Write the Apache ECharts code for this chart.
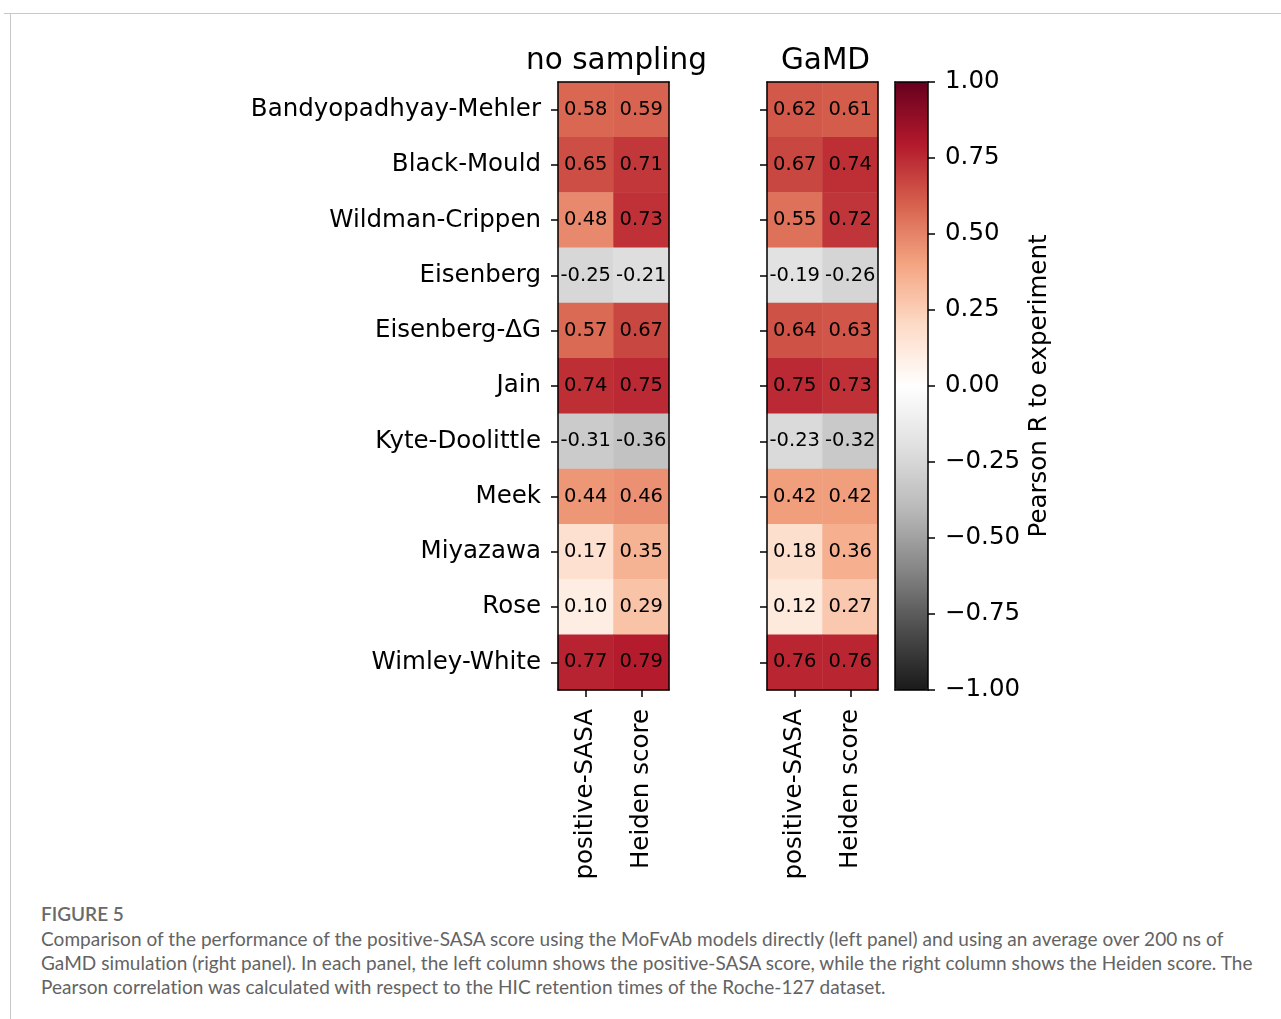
<!DOCTYPE html>
<html>
<head>
<meta charset="utf-8">
<script src="https://cdn.jsdelivr.net/npm/echarts@6/dist/echarts.min.js"></script>
<style>
  html, body { margin: 0; padding: 0; background: #fff; }
  #wrap { position: relative; width: 1281px; height: 1019px; overflow: hidden; }
  #frame { position: absolute; left: 10px; top: 13px; width: 1300px; height: 1100px; z-index: 5;
           pointer-events: none; border-top: 1px solid #c8c8c8; border-left: 1px solid #c8c8c8; }
  #topline { position: absolute; left: 4px; top: 13px; width: 1290px; height: 0; z-index: 5;
             border-top: 1px solid #c8c8c8; }
  #chart { position: absolute; left: 0; top: 0; width: 1281px; height: 890px; }
  #caption { position: absolute; left: 41px; top: 902px; width: 1235px;
             font-family: Lato, "Open Sans", sans-serif; color: #636363; }
  #caption .fig { font-size: 19px; font-weight: 600; color: #6a6a6a; line-height: 24px; margin-bottom: 1px; }
  #caption .txt { font-size: 19px; line-height: 24px; white-space: nowrap; letter-spacing: 0.05px; }
</style>
</head>
<body>
<div id="wrap">
  <div id="chart"></div>
  <div id="frame"></div>
  <div id="topline"></div>
  <div id="caption">
    <div class="fig">FIGURE 5</div>
    <div class="txt">Comparison of the performance of the positive-SASA score using the MoFvAb models directly (left panel) and using an average over 200 ns of<br>GaMD simulation (right panel). In each panel, the left column shows the positive-SASA score, while the right column shows the Heiden score. The<br>Pearson correlation was calculated with respect to the HIC retention times of the Roche-127 dataset.</div>
  </div>
</div>
<script>
// scales (rows top to bottom)
var rows = ['Bandyopadhyay-Mehler', 'Black-Mould', 'Wildman-Crippen', 'Eisenberg', 'Eisenberg-ΔG',
  'Jain', 'Kyte-Doolittle', 'Meek', 'Miyazawa', 'Rose', 'Wimley-White']
var cols = ['positive-SASA', 'Heiden score']
var panelTitles = ['no sampling', 'GaMD']

// left panel
var sasaNoSampling = [0.58, 0.65, 0.48, -0.25, 0.57, 0.74, -0.31, 0.44, 0.17, 0.10, 0.77]
var heidenNoSampling = [0.59, 0.71, 0.73, -0.21, 0.67, 0.75, -0.36, 0.46, 0.35, 0.29, 0.79]
// right panel
var sasaGaMD = [0.62, 0.67, 0.55, -0.19, 0.64, 0.75, -0.23, 0.42, 0.18, 0.12, 0.76]
var heidenGaMD = [0.61, 0.74, 0.72, -0.26, 0.63, 0.73, -0.32, 0.42, 0.36, 0.27, 0.76]

// colour bar range
var cbMin = -1
var cbMax = 1
var cbStep = 0.25

// RdGy reversed
var rdgyR = ['#1a1a1a', '#4d4d4d', '#878787', '#bababa', '#e0e0e0', '#ffffff',
  '#fddbc7', '#f4a582', '#d6604d', '#b2182b', '#67001f']

function cells(a, b) {
  var out = []
  rows.forEach(function (r, i) {
    out.push([0, i, a[i]])
    out.push([1, i, b[i]])
  })
  return out
}

var font = 'DejaVu Sans'
var fs = 24.5
var lineStyle = { color: '#000', width: 1.5 }
var grids = [
  { left: 558, top: 82, width: 111, height: 608 },
  { left: 767, top: 82, width: 111, height: 608 },
  { left: 895, top: 82, width: 33, height: 608 }
]

var xAxes = []
var yAxes = []
;[0, 1].forEach(function (g) {
  xAxes.push({
    type: 'category', gridIndex: g, data: cols, position: 'bottom', z: 10,
    axisLine: { show: true, onZero: false, lineStyle: lineStyle },
    axisTick: { show: true, length: 7, lineStyle: lineStyle, alignWithLabel: true, interval: 0 },
    axisLabel: { rotate: 90, fontSize: fs, color: '#000', fontFamily: font, margin: 19, interval: 0 },
    splitLine: { show: false }
  })
  xAxes.push({
    type: 'category', gridIndex: g, data: cols, position: 'top', z: 10,
    axisLine: { show: true, onZero: false, lineStyle: lineStyle }, axisTick: { show: false }, axisLabel: { show: false }
  })
  yAxes.push({
    type: 'category', gridIndex: g, data: rows, inverse: true, position: 'left', z: 10,
    axisLine: { show: true, onZero: false, lineStyle: lineStyle },
    axisTick: { show: true, length: 7, lineStyle: lineStyle, alignWithLabel: true, interval: 0 },
    axisLabel: { show: g === 0, fontSize: fs, color: '#000', fontFamily: font, margin: 17, interval: 0,
      padding: [5, 0, 0, 0] },
    splitLine: { show: false }
  })
  yAxes.push({
    type: 'category', gridIndex: g, data: rows, inverse: true, position: 'right', z: 10,
    axisLine: { show: true, onZero: false, lineStyle: lineStyle }, axisTick: { show: false }, axisLabel: { show: false }
  })
})

// colour bar frame + ticks
xAxes.push({
  type: 'category', gridIndex: 2, data: [''], position: 'bottom', z: 10,
  axisLine: { show: true, onZero: false, lineStyle: lineStyle }, axisTick: { show: false }, axisLabel: { show: false }
})
xAxes.push({
  type: 'category', gridIndex: 2, data: [''], position: 'top', z: 10,
  axisLine: { show: true, onZero: false, lineStyle: lineStyle }, axisTick: { show: false }, axisLabel: { show: false }
})
yAxes.push({
  type: 'value', gridIndex: 2, position: 'left', min: cbMin, max: cbMax, z: 10,
  axisLine: { show: true, onZero: false, lineStyle: lineStyle }, axisTick: { show: false },
  axisLabel: { show: false }, splitLine: { show: false }
})
yAxes.push({
  type: 'value', gridIndex: 2, position: 'right', min: cbMin, max: cbMax, interval: cbStep, z: 10,
  axisLine: { show: true, onZero: false, lineStyle: lineStyle },
  axisTick: { show: true, length: 7, lineStyle: lineStyle },
  axisLabel: {
    fontSize: fs, color: '#000', fontFamily: font, margin: 17, padding: [6, 0, 0, 0],
    formatter: function (v) { return (v < 0 ? '\u2212' : '') + Math.abs(v).toFixed(2) }
  },
  splitLine: { show: false },
  name: 'Pearson R to experiment', nameLocation: 'middle', nameRotate: 90, nameGap: 99,
  nameTextStyle: { fontSize: fs, color: '#000', fontFamily: font }
})

var labelCfg = {
  show: true, color: '#000', fontSize: 19.5, fontFamily: font, padding: [2, 0, 0, 0],
  formatter: function (p) { return p.value[2].toFixed(2) }
}

var option = {
  animation: false,
  backgroundColor: '#fff',
  textStyle: { fontFamily: font },
  title: panelTitles.map(function (t, i) {
    return {
      text: t, left: grids[i].left + grids[i].width / 2 - 2, top: 41, textAlign: 'center',
      textStyle: { fontSize: 29.5, fontWeight: 'normal', color: '#000', fontFamily: font }
    }
  }),
  grid: grids,
  xAxis: xAxes,
  yAxis: yAxes,
  visualMap: {
    type: 'continuous', min: cbMin, max: cbMax, seriesIndex: [0, 1],
    left: 895, top: 82, itemWidth: 33, itemHeight: 608, padding: 0,
    calculable: false, hoverLink: false,
    inRange: { color: rdgyR }
  },
  series: [
    {
      type: 'heatmap', xAxisIndex: 0, yAxisIndex: 0, z: 2,
      data: cells(sasaNoSampling, heidenNoSampling), label: labelCfg,
      emphasis: { disabled: true }
    },
    {
      type: 'heatmap', xAxisIndex: 2, yAxisIndex: 2, z: 2,
      data: cells(sasaGaMD, heidenGaMD), label: labelCfg,
      emphasis: { disabled: true }
    }
  ]
}

var chart = echarts.init(document.getElementById('chart'))
chart.setOption(option)
</script>
</body>
</html>
